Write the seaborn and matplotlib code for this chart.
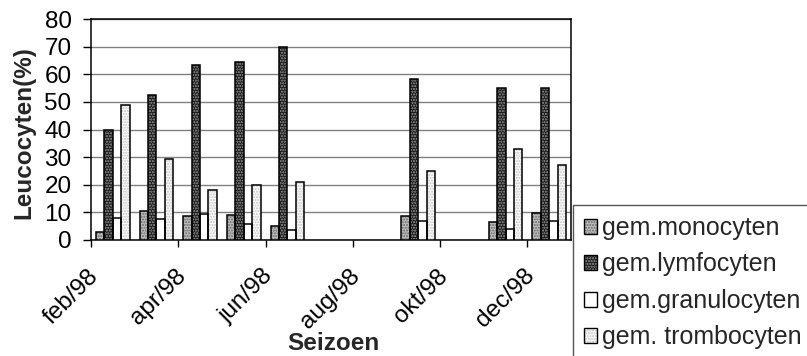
import matplotlib
matplotlib.use("Agg")
import matplotlib.pyplot as plt
import matplotlib.transforms as mtransforms
from matplotlib.patches import Rectangle, Patch
from matplotlib.legend_handler import HandlerTuple
import numpy as np
import pandas as pd
import seaborn as sns

# Month slots on the axis (one bar group per month)
months = ["feb/98", "mrt/98", "apr/98", "mei/98", "jun/98", "jul/98",
          "aug/98", "sep/98", "okt/98", "nov/98", "dec/98"]
# Months for which averages were measured
sampled = ["feb/98", "mrt/98", "apr/98", "mei/98", "jun/98",
           "sep/98", "nov/98", "dec/98"]

monocyten = [3.0, 10.5, 8.8, 9.1, 5.1, 8.7, 6.6, 9.9]
lymfocyten = [40.0, 52.5, 63.4, 64.4, 69.7, 58.4, 55.2, 55.0]
granulocyten = [7.9, 7.5, 9.3, 5.8, 3.6, 6.9, 4.1, 7.0]
trombocyten = [48.8, 29.5, 18.1, 19.9, 21.0, 25.0, 32.9, 27.3]

series_names = ["gem.monocyten", "gem.lymfocyten", "gem.granulocyten",
                "gem. trombocyten"]
tick_labels = ["feb/98", "apr/98", "jun/98", "aug/98", "okt/98", "dec/98"]

frames = []
for name, vals in zip(series_names,
                      [monocyten, lymfocyten, granulocyten, trombocyten]):
    frames.append(pd.DataFrame({"maand": sampled, "reeks": name,
                                "waarde": vals}))
df = pd.concat(frames, ignore_index=True)

sns.set_style("white")
plt.rcParams["font.family"] = ["Liberation Sans", "DejaVu Sans"]
plt.rcParams["hatch.linewidth"] = 1.0

fig = plt.figure(figsize=(8.07, 3.56), dpi=100)
ax = fig.add_axes([91 / 807, 1 - 240 / 356, (571 - 91) / 807, (240 - 19) / 356])

sns.barplot(data=df, x="maand", y="waarde", hue="reeks", order=months,
            hue_order=series_names, width=0.77, errorbar=None,
            ax=ax, legend=False, zorder=3)

# fill colour, hatch pattern, hatch colour per series
styles = [
    ("#bdbdbd", "......", "#6a6a6a"),
    ("#1c1c1c", "......", "#9a9a9a"),
    ("#ffffff", None, "#ffffff"),
    ("#fbfbfb", "......", "#c4c4c4"),
]

for cont, (fc, hatch, hc) in zip(ax.containers, styles):
    for p in cont.patches:
        p.set_facecolor(fc)
        p.set_edgecolor(hc)
        p.set_linewidth(0)
        if hatch:
            p.set_hatch(hatch)
        ax.add_patch(Rectangle(p.get_xy(), p.get_width(), p.get_height(),
                               fill=False, edgecolor="black", linewidth=1.1,
                               zorder=4))

ax.set_xlim(-0.5, len(months) - 0.5)
ax.set_ylim(0, 80)
ax.set_yticks(np.arange(0, 81, 10))
ax.yaxis.grid(True, color="#808080", linewidth=1.0, zorder=0)
ax.xaxis.grid(False)
ax.set_axisbelow(True)

for s in ax.spines.values():
    s.set_visible(True)
    s.set_color("black")
    s.set_linewidth(1.1)

ax.tick_params(axis="y", which="major", left=True, length=6, width=1,
               direction="out", pad=8, labelsize=17.5, colors="black")
ax.tick_params(axis="x", which="major", bottom=True, length=5, width=1,
               direction="out", labelsize=17.5, colors="black", pad=13)

xt = [months.index(m) - 0.5 for m in tick_labels]
ax.set_xticks(xt)
ax.set_xticklabels(tick_labels, rotation=45, ha="right", va="top")
offset = mtransforms.ScaledTranslation(12 / 100, 0, fig.dpi_scale_trans)
for lbl in ax.get_xticklabels():
    lbl.set_transform(lbl.get_transform() + offset)

ax.set_xlabel("")
ax.set_ylabel("")
fig.text(24 / 807, 1 - 133 / 356, "Leucocyten(%)", rotation=90,
         ha="center", va="center", fontsize=17.5, fontweight="bold")
fig.text(333 / 807, 1 - 343 / 356, "Seizoen", ha="center", va="center",
         fontsize=17.5, fontweight="bold")

handles = [Patch(facecolor=fc, edgecolor=hc, hatch=h, linewidth=0)
           for fc, h, hc in styles]
handles = [(h, Patch(facecolor="none", edgecolor="black", linewidth=1.0))
           for h in handles]
leg = fig.legend(handles, series_names, loc="upper left",
                 bbox_to_anchor=(573 / 807, 1 - 209 / 356, 260 / 807, 0.01),
                 mode="expand",
                 bbox_transform=fig.transFigure, fontsize=18,
                 frameon=True, fancybox=False, shadow=False,
                 handlelength=0.55, handleheight=0.55, handletextpad=0.2,
                 labelspacing=0.5, borderpad=0.42, borderaxespad=0,
                 handler_map={tuple: HandlerTuple(ndivide=1, pad=0)})
leg.get_frame().set_edgecolor("#555555")
leg.get_frame().set_linewidth(1.0)
leg.get_frame().set_alpha(1)

fig.savefig("out.png", dpi=100, facecolor="white")
